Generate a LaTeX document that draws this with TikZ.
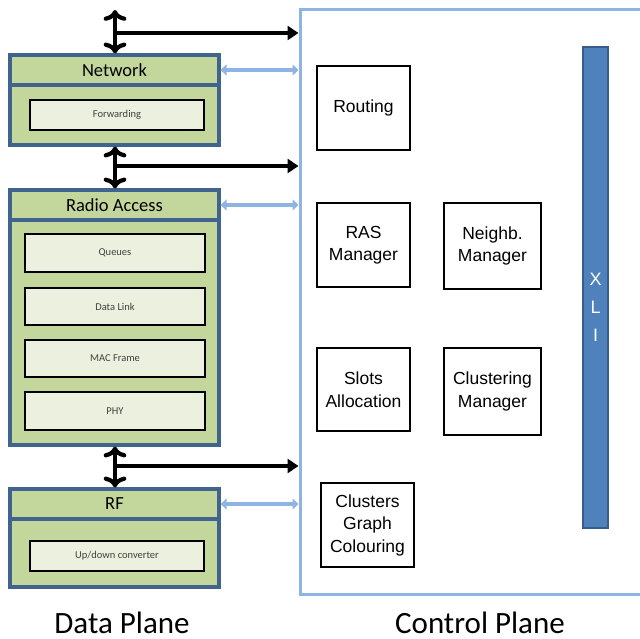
\documentclass[tikz,border=0pt]{standalone}
\usepackage{fontspec}
\setmainfont{Carlito}
\newfontfamily\arialfont{Liberation Sans}
\usetikzlibrary{arrows.meta}
\definecolor{layergreen}{HTML}{C3D69B}
\definecolor{layerline}{HTML}{41648F}
\definecolor{subgreen}{HTML}{EBF1DE}
\definecolor{ctlblue}{HTML}{8EB4E3}
\definecolor{xliblue}{HTML}{4F81BD}
\definecolor{xliline}{HTML}{385D8A}
\begin{document}
\begin{tikzpicture}[x=1pt, y=-1pt,
	layerhd/.style={draw=layerline, fill=layergreen, line width=3.2pt, minimum width=209pt, minimum height=30pt, inner sep=0pt, font=\fontsize{18.5}{20}\selectfont},
	layerbody/.style={draw=layerline, fill=layergreen, line width=3.2pt, minimum width=209pt, inner sep=0pt},
	subbox/.style={draw=black, fill=subgreen, line width=1.4pt, inner sep=0pt, text=black!75, font=\fontsize{10.5}{12}\selectfont},
	ctlbox/.style={draw=black, line width=1.2pt, minimum width=93pt, minimum height=84pt, inner sep=0pt, align=center, font=\arialfont\fontsize{17.5}{22.5}\selectfont},
	dataarrow/.style={draw=black, line width=4.2pt, -{Triangle[length=11pt,width=14pt]}},
	ctlarrow/.style={draw=ctlblue, line width=3.4pt, {Triangle[length=6pt,width=11pt]}-{Triangle[length=6pt,width=11pt]}},
	planelabel/.style={inner sep=0pt, anchor=base, text depth=0pt, font=\fontsize{31}{34}\selectfont}]
		\path[use as bounding box, clip] (0,0) rectangle (640,639);
		% data plane layers
		\node[layerhd] (nethd) at (114.5,70) {Network};
		\node[layerbody, minimum height=60pt] (net) at (114.5,115) {};
		\node[subbox, minimum width=174pt, minimum height=30pt] (fwd) at (117,115) {Forwarding};
		\node[layerhd] (radhd) at (114.5,205) {Radio Access};
		\node[layerbody, minimum height=225pt] (rad) at (114.5,332.5) {};
		\node[subbox, minimum width=180pt, minimum height=38pt] (que) at (115,253) {Queues};
		\node[subbox, minimum width=180pt, minimum height=37pt] (dl) at (115,306.5) {Data Link};
		\node[subbox, minimum width=180pt, minimum height=37pt] (mac) at (115,358.5) {MAC Frame};
		\node[subbox, minimum width=180pt, minimum height=38pt] (phy) at (115,411) {PHY};
		\node[layerhd] (rfhd) at (114.5,504) {RF};
		\node[layerbody, minimum height=68pt] (rf) at (114.5,553) {};
		\node[subbox, minimum width=174pt, minimum height=30pt] (udc) at (117,556) {Up/down converter};
		% control plane
		\node[draw=ctlblue, line width=3pt, minimum width=380pt, minimum height=584pt, inner sep=0pt] (ctl) at (490,302) {};
		\node[ctlbox] (rout) at (363.5,108) {Routing};
		\node[ctlbox] (ras) at (363.5,245) {RAS\\Manager};
		\node[ctlbox, minimum width=97pt, minimum height=86pt] (ngh) at (492.5,246) {Neighb.\\Manager};
		\node[ctlbox, minimum height=83pt] (slot) at (363.5,389.5) {Slots\\Allocation};
		\node[ctlbox, minimum width=97pt, minimum height=87pt] (clu) at (492.5,391.5) {Clustering\\Manager};
		\node[ctlbox] (cgc) at (367.5,525) {Clusters\\Graph\\Colouring};
		\node[draw=xliline, fill=xliblue, line width=1.8pt, minimum width=25pt, minimum height=481pt, inner sep=0pt] (xli) at (595.5,287.5) {};
		\node[text=white, align=center, font=\arialfont\fontsize{18}{28}\selectfont] (xlit) at (595.5,307) {X\\L\\I};
		% data arrows
		\coordinate (top) at (115,10);
		\coordinate (j1) at (115,33);
		\coordinate (j2) at (115,166);
		\coordinate (j3) at (115,466);
		\draw[dataarrow, <->] (top) -- (top |- nethd.north);
		\draw[dataarrow, <->] (net.south -| top) -- (radhd.north -| top);
		\draw[dataarrow, <->] (rad.south -| top) -- (rfhd.north -| top);
		\draw[dataarrow] (j1) -- (j1 -| ctl.west);
		\draw[dataarrow] (j2) -- (j2 -| ctl.west);
		\draw[dataarrow] (j3) -- (j3 -| ctl.west);
		% control arrows
		\draw[ctlarrow] (nethd.east) -- (nethd.east -| ctl.west);
		\draw[ctlarrow] (radhd.east) -- (radhd.east -| ctl.west);
		\draw[ctlarrow] (rfhd.east) -- (rfhd.east -| ctl.west);
		\node[planelabel] (dpl) at (122,633) {Data Plane};
		\node[planelabel] (cpl) at (480,633) {Control Plane};
\end{tikzpicture}
\end{document}
